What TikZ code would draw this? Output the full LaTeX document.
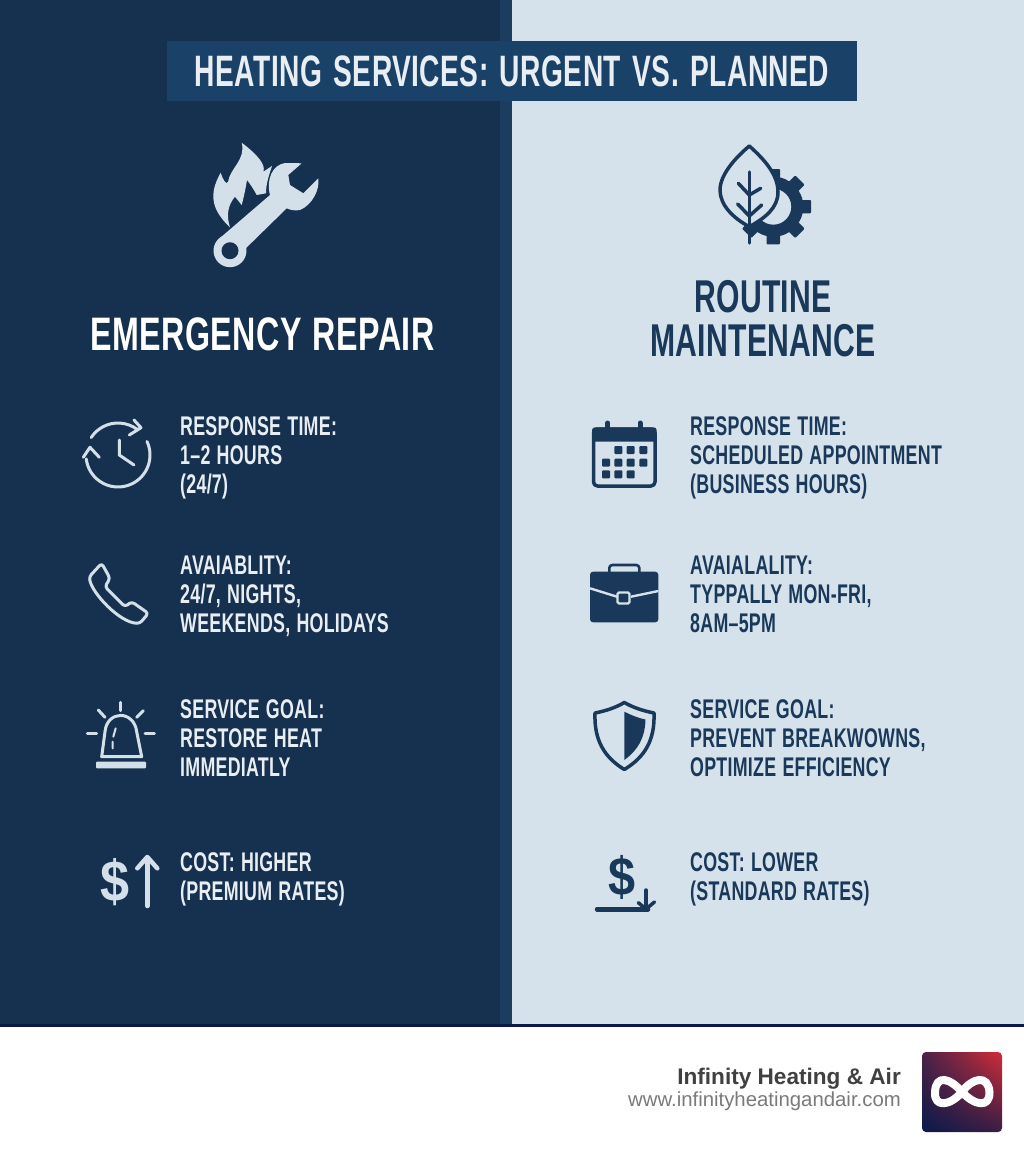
\documentclass[tikz,border=0pt]{standalone}
\usepackage{fontspec}
\usepackage{color}
\usetikzlibrary{arrows,%
                shapes,shadings,positioning}
\newfontfamily\NarrowFont[FakeStretch=0.66,LetterSpace=1,WordSpace=1.2]{Liberation Sans}
\newfontfamily\TitleFont[FakeStretch=0.64,LetterSpace=1,WordSpace=1.4]{Liberation Sans}
\newfontfamily\LeftHeadFont[FakeStretch=0.685,LetterSpace=1,WordSpace=1.2]{Liberation Sans}
\newfontfamily\RightHeadFont[FakeStretch=0.655,LetterSpace=0.5]{Liberation Sans}
\newfontfamily\BrandFont{Liberation Sans}
\definecolor{navy}{HTML}{16304F}
\definecolor{seam}{HTML}{1C3C60}
\definecolor{mist}{HTML}{D6E2EB}
\definecolor{banner}{HTML}{1A4269}
\definecolor{ink}{HTML}{1A3859}
\definecolor{frost}{HTML}{D3E0EA}
\definecolor{paper}{HTML}{E8EEF3}
\definecolor{rule}{HTML}{0A1A4A}
\definecolor{logored}{HTML}{D02C38}
\definecolor{logoplum}{HTML}{4A2248}
\definecolor{logowine}{HTML}{3A1D44}

\begin{document}
\begin{tikzpicture}[x=1pt,y=-1pt]
  \useasboundingbox (0,0) rectangle (1024,1154);
  \tikzset{TitleStyle/.style   = {font       = \TitleFont\bfseries\fontsize{44}{48}\selectfont,
                                  text       = paper,
                                  inner sep  = 0pt}}
  \tikzset{HeadStyle/.style    = {align      = center,
                                  inner sep  = 0pt}}
  \tikzset{ItemStyle/.style    = {font       = \NarrowFont\bfseries\fontsize{27}{29}\selectfont,
                                  align      = left,
                                  inner sep  = 0pt,
                                  execute at begin node = \strut,
                                  execute at end node   = \strut}}
  \tikzset{LeftItem/.style     = {ItemStyle, text = paper}}
  \tikzset{RightItem/.style    = {ItemStyle, text = ink}}
  \tikzset{FrostLine/.style    = {draw = frost, line width = 3pt, line cap = round, line join = round}}
  \tikzset{InkLine/.style      = {draw = ink, line width = 3.5pt, line cap = round, line join = round}}
  \tikzset{LogoStyle/.style    = {rounded corners = 4pt,
                                  minimum size    = 80pt,
                                  inner sep       = 0pt,
                                  lower left      = rule,
                                  upper right     = logored,
                                  upper left      = logoplum,
                                  lower right     = logowine}}

  % the two panels and the footer
  \fill[navy] (0,0) rectangle (500,1024);
  \fill[seam] (500,0) rectangle (512,1024);
  \fill[mist] (512,0) rectangle (1024,1024);
  \fill[rule] (0,1024) rectangle (1024,1027);
  \fill[white] (0,1027) rectangle (1024,1154);

  \node[TitleStyle,fill=banner,minimum width=690pt,minimum height=60pt](Title) at (512,71)
       {HEATING SERVICES: URGENT VS. PLANNED};

  % flame and wrench
  \fill[frost] (230,227.5) .. controls (212,210) and (208,195) .. (220.7,172.7)
       .. controls (223,180) and (226,185) .. (228,182)
       .. controls (230,168) and (246,160) .. (241.7,142.7)
       .. controls (258,155) and (266,165) .. (263.3,171.7)
       -- (272,166) .. controls (268,178) and (266,185) .. (266,193.3)
       -- (256.7,195) .. controls (253,188) and (250,184) .. (247,180)
       .. controls (245,192) and (243,200) .. (241.7,205)
       -- (235,196.7) .. controls (228,205) and (226,215) .. (230,227.5) -- cycle;
  \fill[frost] (301.7,163.3) -- (288.3,175) -- (290,185) -- (303.3,193.3) -- (318.3,178.3)
       .. controls (320,190) and (312,205) .. (300,210) .. controls (295,211) and (290,210) .. (286.7,208.3)
       -- (241,253) -- (220,238)
       -- (270,195) .. controls (266,180) and (272,165) .. (285,163) -- cycle;
  \fill[frost] (230,250.7) circle[radius=16.5];
  \fill[navy] (230,250.7) circle[radius=8.5];

  \node[HeadStyle,font=\LeftHeadFont\bfseries\fontsize{47}{44}\selectfont,text=white](EmergencyHead) at (262.5,334) {EMERGENCY REPAIR};

  % clock with two arrows
  \coordinate (ClockIcon) at (118,455);
  \draw[FrostLine] (ClockIcon) ++(-25:32) arc[start angle=-25,end angle=173,radius=32];
  \draw[FrostLine] (ClockIcon) ++(213:32) arc[start angle=213,end angle=307,radius=32];
  \draw[FrostLine] (134,420) -- (141,427.7) -- (129.3,435);
  \draw[FrostLine] (83.3,457.3) -- (90,447.3) -- (99.3,457.3);
  \draw[FrostLine] (119.3,440) -- (119.3,455) -- (134,465);
  \node[LeftItem,right=62pt of ClockIcon,yshift=-4pt](ResponseLeft)
       {RESPONSE TIME:\\1–2 HOURS\\(24/7)};

  % phone
  \coordinate (PhoneIcon) at (118,594);
  \draw[FrostLine,rounded corners=3pt] (101.7,563.3) -- (110,578.3) -- (105,586.7) -- (125,606.7)
       -- (131.7,601.7) -- (148.3,613.3) -- (140,623.3)
       .. controls (120,623) and (91.7,593) .. (89.3,576.7) -- cycle;
  \node[LeftItem,right=62pt of PhoneIcon,yshift=-5pt](AvailLeft)
       {AVAIABLITY:\\24/7, NIGHTS,\\WEEKENDS, HOLIDAYS};

  % siren
  \coordinate (SirenIcon) at (118,738);
  \draw[FrostLine] (101.7,756.7) -- (105,731.7) .. controls (107,710) and (134,710) .. (136.7,731.7) -- (141.7,756.7) -- cycle;
  \fill[frost,rounded corners=1pt] (96,761.7) rectangle (146,768.3);
  \foreach \xa/\ya/\xb/\yb in {120.7/702.3/120.7/710.7, 98.3/710/105/717.3, 143.3/710.7/136.7/717.3,
                               87.3/733.3/96.7/733.3, 145/733.3/154.3/733.3}
    \draw[FrostLine] (\xa,\ya) -- (\xb,\yb);
  \draw[FrostLine,line width=2pt] (115.7,728.3) -- (113.3,736.7) (112.7,741.7) -- (112.7,748.3);
  \node[LeftItem,right=62pt of SirenIcon,yshift=-4pt](GoalLeft)
       {SERVICE GOAL:\\RESTORE HEAT\\IMMEDIATLY};

  % dollar and arrow up
  \node[font=\BrandFont\bfseries\fontsize{58}{58}\selectfont,text=frost,inner sep=0pt,xscale=0.9](DollarUp) at (115,882) {\$};
  \draw[FrostLine,line width=4.5pt] (147.3,906) -- (147.3,858);
  \draw[FrostLine,line width=4.5pt] (137.3,868.3) -- (147.3,857) -- (157.3,868.3);
  \coordinate (CostLeftSpot) at (118,876);
  \node[LeftItem,right=62pt of CostLeftSpot,yshift=-5pt](CostLeft)
       {COST: HIGHER\\(PREMIUM RATES)};

  % gear behind leaf
  \coordinate (Gear) at (773.3,206.7);
  \fill[ink,even odd rule] (Gear) circle[radius=30] (Gear) circle[radius=18];
  \foreach \a in {0,45,...,315}
    \fill[ink,rotate around={\a:(Gear)},rounded corners=1pt] (800,200) rectangle (811,213.4);
  \draw[InkLine,fill=mist] (749.3,146) .. controls (765,160) and (778,175) .. (778,192)
       .. controls (778,208) and (765,218) .. (749.3,226.7)
       .. controls (733,218) and (720,205) .. (720,190)
       .. controls (720,175) and (735,158) .. (749.3,146) -- cycle;
  \draw[InkLine] (749.3,172) -- (749.3,243);
  \draw[InkLine] (738.3,183.3) -- (749.3,195) -- (760.7,188.3);
  \draw[InkLine] (737.7,204) -- (749.3,216) -- (761.7,205);

  \node[HeadStyle,font=\RightHeadFont\bfseries\fontsize{46}{44}\selectfont,text=ink](RoutineHead) at (763,319) {ROUTINE\\MAINTENANCE};

  % calendar
  \coordinate (CalendarIcon) at (628,455);
  \draw[InkLine,rounded corners=4pt] (593.5,429) rectangle (655,486);
  \fill[ink,rounded corners=3pt] (592,427.3) rectangle (656.7,441.7);
  \draw[InkLine,line width=5pt] (607.7,423) -- (607.7,430) (640,423) -- (640,430);
  \foreach \cx/\cy in {618.3/450,630.7/450,643.3/450,
                       606/462.7,618.3/462.7,630.7/462.7,643.3/462.7,
                       606/474.3,618.3/474.3,630.7/474.3}
    \fill[ink,rounded corners=1pt] (\cx-4,\cy-4) rectangle (\cx+4,\cy+4);
  \node[RightItem,right=62pt of CalendarIcon,yshift=-4pt](ResponseRight)
       {RESPONSE TIME:\\SCHEDULED APPOINTMENT\\(BUSINESS HOURS)};

  % briefcase
  \coordinate (CaseIcon) at (628,594);
  \draw[InkLine,line width=2.6pt,rounded corners=3pt] (609.3,572) -- (609.3,565) -- (639.3,565) -- (639.3,572);
  \fill[ink,rounded corners=3pt] (590,571.7) rectangle (658.3,622.3);
  \draw[mist,line width=2.4pt] (590,588.3) -- (617,596.7) (631,596.7) -- (658.3,591);
  \draw[mist,fill=ink,line width=2.4pt,rounded corners=1.5pt] (617.5,592.5) rectangle (629.5,603.5);
  \node[RightItem,right=62pt of CaseIcon,yshift=-5pt](AvailRight)
       {AVAIALALITY:\\TYPPALLY MON-FRI,\\8AM–5PM};

  % shield
  \coordinate (ShieldIcon) at (628,738);
  \draw[InkLine] (624.3,702.5) .. controls (634,708) and (644,711) .. (654,713)
       .. controls (655,740) and (645,757) .. (624.3,769.5)
       .. controls (604,757) and (594,740) .. (595,713)
       .. controls (605,711) and (615,708) .. (624.3,702.5) -- cycle;
  \fill[ink] (624.3,711.7) .. controls (631,715) and (638,718) .. (645.5,719.5)
       .. controls (645,738) and (638,750) .. (624.3,760) -- cycle;
  \node[RightItem,right=62pt of ShieldIcon,yshift=-4pt](GoalRight)
       {SERVICE GOAL:\\PREVENT BREAKWOWNS,\\OPTIMIZE EFFICIENCY};

  % dollar and arrow down
  \node[font=\BrandFont\bfseries\fontsize{54}{54}\selectfont,text=ink,inner sep=0pt,xscale=0.9](DollarDown) at (622,877) {\$};
  \draw[InkLine,line width=4.5pt] (597,909.3) -- (648,909.3);
  \draw[InkLine,line width=3.5pt] (646,890) -- (646,908);
  \draw[InkLine,line width=3.5pt] (638.3,902.7) -- (646,909) -- (654.5,902);
  \coordinate (CostRightSpot) at (628,876);
  \node[RightItem,right=62pt of CostRightSpot,yshift=-5pt](CostRight)
       {COST: LOWER\\(STANDARD RATES)};

  % footer
  \node[LogoStyle](Logo) at (962,1092) {};
  \draw[white,line width=8pt,line join=round] (962,1092)
       .. controls (972,1078) and (988,1074) .. (989.5,1092)
       .. controls (990,1108) and (975,1106) .. (962,1092)
       .. controls (950,1078) and (936,1074) .. (935,1092)
       .. controls (934,1108) and (950,1106) .. (962,1092) -- cycle;
  \node[font=\BrandFont\bfseries\fontsize{22.6}{26}\selectfont,text=black!75,anchor=east,inner sep=0pt](Brand) at (901,1079)
       {Infinity Heating \& Air};
  \node[font=\BrandFont\fontsize{20.35}{24}\selectfont,text=black!52,anchor=east,inner sep=0pt](Site) at (901,1101)
       {www.infinityheatingandair.com};
\end{tikzpicture}
\end{document}
